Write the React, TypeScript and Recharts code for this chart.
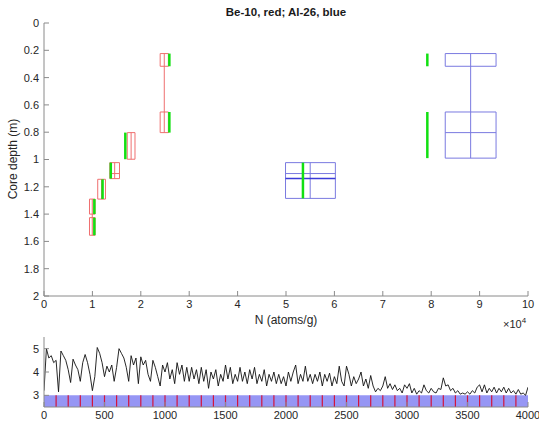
import React from "react";
import { ComposedChart, Line, XAxis, YAxis, ReferenceArea, ReferenceLine } from "recharts";

// Be-10 boxes (N in 1e4 atoms/g, depth in m)
const beLo = [2.4, 2.4, 1.72, 1.36, 1.11, 0.94, 0.94];
const beHi = [2.57, 2.57, 1.88, 1.56, 1.27, 1.055, 1.055];
const beTop = [0.224, 0.652, 0.803, 1.023, 1.145, 1.29, 1.426];
const beBot = [0.317, 0.803, 0.998, 1.14, 1.29, 1.4, 1.555];
const beStemN = [2.485, 1.8, 1.46, 1.19, 0.997];
const beStemTop = [0.224, 0.803, 1.023, 1.145, 1.29];
const beStemBot = [0.803, 0.998, 1.14, 1.29, 1.555];
const beSplitDepth = [1.103];
const beSplitLo = [1.36];
const beSplitHi = [1.56];

// Al-26 boxes
const alLo = [8.29, 8.29, 4.99];
const alHi = [9.34, 9.34, 6.02];
const alTop = [0.224, 0.652, 1.023];
const alBot = [0.317, 0.99, 1.285];
const alStemN = [8.815, 5.5];
const alStemTop = [0.224, 1.023];
const alStemBot = [0.99, 1.285];
const alSplitDepth = [0.803, 1.103, 1.14];
const alSplitLo = [8.29, 4.99, 4.99];
const alSplitHi = [9.34, 6.02, 6.02];

// green markers
const greenN = [2.59, 2.59, 1.68, 1.38, 1.21, 1.04, 1.04, 7.92, 7.92, 5.35];
const greenTop = [0.224, 0.652, 0.803, 1.023, 1.145, 1.29, 1.426, 0.224, 0.652, 1.023];
const greenBot = [0.317, 0.803, 0.998, 1.14, 1.29, 1.4, 1.555, 0.317, 0.99, 1.285];

const topXTicks = [0, 1, 2, 3, 4, 5, 6, 7, 8, 9, 10];
const topYTicks = [0, 0.2, 0.4, 0.6, 0.8, 1, 1.2, 1.4, 1.6, 1.8, 2];

// lower panel: time series, every 20 units from 0 to 4000
const seriesStep = 20;
const seriesValues = [
  3.2, 5.0, 4.6, 4.7, 4.4, 4.5, 3.15, 4.9, 4.7, 4.5,
  4.1, 3.55, 4.55, 4.3, 4.1, 3.6, 4.4, 4.75, 4.4, 3.9,
  3.2, 3.8, 5.05, 4.8, 4.4, 3.8, 4.25, 4.0, 4.3, 3.6,
  4.2, 5.0, 4.8, 4.6, 4.2, 3.6, 4.7, 4.3, 4.6, 3.5,
  4.65, 4.3, 4.5, 3.9, 3.6, 4.5, 4.2, 3.8, 3.4, 4.3,
  4.0, 4.4, 3.7, 4.1, 3.5, 4.4, 3.9, 4.3, 3.6, 4.2,
  3.6, 4.2, 3.7, 4.1, 3.5, 4.2, 3.6, 4.1, 3.3, 4.0,
  3.7, 4.1, 3.4, 3.9, 3.6, 4.3, 3.7, 4.2, 3.5, 3.9,
  3.6, 4.2, 3.6, 4.0, 3.5, 4.1, 3.7, 4.2, 3.5, 3.9,
  3.6, 4.1, 3.4, 3.9, 3.6, 4.0, 3.5, 3.9, 3.5, 3.8,
  3.4, 4.0, 3.6, 4.0, 4.3, 3.5, 3.9, 3.6, 4.25, 3.6,
  3.9, 3.5, 3.9, 3.6, 4.0, 3.4, 3.9, 3.6, 3.95, 3.4,
  3.8, 3.5, 4.25, 3.6, 3.4, 4.25, 3.9, 3.4, 3.8, 3.5,
  3.7, 4.0, 3.4, 3.7, 3.3, 3.85, 3.4, 3.15, 3.3, 3.2,
  3.4, 3.8, 3.3, 3.5, 3.25, 3.45, 3.2, 3.3, 3.1, 3.45,
  3.3, 3.5, 3.1, 3.3, 3.05, 3.2, 3.1, 3.45, 3.2, 3.1,
  3.3, 3.15, 3.1, 3.3, 3.25, 3.75, 3.4, 3.45, 3.2, 3.3,
  3.1, 3.2, 3.05, 3.1, 3.05, 3.15, 3.05, 3.2, 3.1, 3.35,
  3.45, 3.15, 3.45, 3.1, 3.3, 3.15, 3.35, 3.1, 3.3, 3.15,
  3.35, 3.1, 3.3, 3.1, 3.2, 3.05, 3.25, 3.05, 3.1, 3.0,
  3.35,
];
const markerX = [
  100, 200, 300, 400, 500, 600, 700, 800, 900, 1000, 1100, 1200, 1300,
  1400, 1500, 1600, 1700, 1800, 1900, 2000, 2100, 2200, 2300, 2400, 2500,
  2600, 2700, 2800, 2900, 3000, 3100, 3200, 3300, 3400, 3500, 3600, 3700,
  3800, 3900,
];
const bottomXTicks = [0, 500, 1000, 1500, 2000, 2500, 3000, 3500, 4000];
const bottomYTicks = [3, 4, 5];

const RED = "#ef6f6f";
const BLUE = "#7a7ae0";
const GREEN = "#11e011";
const AXIS = "#8a8a8a";
const FONT = "'Liberation Sans', Arial, sans-serif";
const tickStyle = { fill: "#262626", fontSize: 11, fontFamily: FONT };

const box = (lo: number, hi: number, t: number, b: number) => [
  { x: lo, y: t },
  { x: hi, y: t },
  { x: hi, y: b },
  { x: lo, y: b },
  { x: lo, y: t },
];
const seg = (x1: number, y1: number, x2: number, y2: number) => [
  { x: x1, y: y1 },
  { x: x2, y: y2 },
];

const redPaths = [
  ...beLo.map((lo, i) => box(lo, beHi[i], beTop[i], beBot[i])),
  ...beStemN.map((n, i) => seg(n, beStemTop[i], n, beStemBot[i])),
  ...beSplitDepth.map((d, i) => seg(beSplitLo[i], d, beSplitHi[i], d)),
];
const bluePaths = [
  ...alLo.map((lo, i) => box(lo, alHi[i], alTop[i], alBot[i])),
  ...alStemN.map((n, i) => seg(n, alStemTop[i], n, alStemBot[i])),
  ...alSplitDepth.map((d, i) => seg(alSplitLo[i], d, alSplitHi[i], d)),
];
const greenPaths = greenN.map((n, i) => seg(n, greenTop[i], n, greenBot[i]));

const seriesData = seriesValues.map((v, i) => ({ x: i * seriesStep, y: v }));

export default function App() {
  const blank = () => "";
  return (
    <div style={{ position: "absolute", left: 0, top: 0, width: 539, height: 425, background: "#fff", fontFamily: FONT }}>
      <div style={{ position: "absolute", left: 44, width: 484, top: 6, textAlign: "center", fontSize: 11.5, fontWeight: "bold", color: "#1a1a1a" }}>
        Be-10, red; Al-26, blue
      </div>
      <div
        style={{
          position: "absolute",
          left: 13,
          top: 159,
          transform: "translate(-50%, -50%) rotate(-90deg)",
          whiteSpace: "nowrap",
          fontSize: 12,
          color: "#262626",
        }}
      >
        Core depth (m)
      </div>
      <div style={{ position: "absolute", left: 44, width: 484, top: 313, textAlign: "center", fontSize: 12, color: "#262626" }}>
        N (atoms/g)
      </div>
      <div style={{ position: "absolute", left: 503, top: 316, fontSize: 11, color: "#262626", whiteSpace: "nowrap" }}>
        ×10<sup style={{ fontSize: 8 }}>4</sup>
      </div>

      <div style={{ position: "absolute", left: 0, top: 0 }}>
        <ComposedChart width={539} height={330} margin={{ top: 23, right: 11, bottom: 0, left: 0 }}>
          <XAxis
            type="number"
            dataKey="x"
            domain={[0, 10]}
            ticks={topXTicks}
            allowDataOverflow
            height={34}
            tickSize={-5}
            tickMargin={9}
            stroke={AXIS}
            tick={tickStyle}
            interval={0}
          />
          <XAxis
            xAxisId="top"
            orientation="top"
            type="number"
            domain={[0, 10]}
            ticks={topXTicks}
            allowDataOverflow
            height={0}
            tickSize={-5}
            tickFormatter={blank}
            stroke={AXIS}
            interval={0}
          />
          <YAxis
            type="number"
            domain={[0, 2]}
            reversed
            ticks={topYTicks}
            allowDataOverflow
            width={44}
            tickSize={-5}
            tickMargin={10}
            stroke={AXIS}
            tick={tickStyle}
            interval={0}
          />
          <YAxis
            yAxisId="right"
            orientation="right"
            type="number"
            domain={[0, 2]}
            reversed
            ticks={topYTicks}
            allowDataOverflow
            width={0}
            tickSize={-5}
            tickFormatter={blank}
            stroke={AXIS}
            interval={0}
          />
          {redPaths.map((d, i) => (
            <Line key={`r${i}`} data={d} dataKey="y" stroke={RED} strokeWidth={1} dot={false} isAnimationActive={false} />
          ))}
          {bluePaths.map((d, i) => (
            <Line
              key={`b${i}`}
              data={d}
              dataKey="y"
              stroke={i === bluePaths.length - 1 ? "#3b3bd8" : BLUE}
              strokeWidth={i === bluePaths.length - 1 ? 1.5 : 1}
              dot={false}
              isAnimationActive={false}
            />
          ))}
          {greenPaths.map((d, i) => (
            <Line key={`g${i}`} data={d} dataKey="y" stroke={GREEN} strokeWidth={2.5} dot={false} isAnimationActive={false} />
          ))}
        </ComposedChart>
      </div>

      <div style={{ position: "absolute", left: 0, top: 330 }}>
        <ComposedChart width={539} height={95} data={seriesData} margin={{ top: 7, right: 11, bottom: 0, left: 0 }}>
          <XAxis
            type="number"
            dataKey="x"
            domain={[0, 4000]}
            ticks={bottomXTicks}
            allowDataOverflow
            height={18}
            tickSize={-5}
            tickMargin={9}
            stroke={AXIS}
            tick={tickStyle}
            interval={0}
          />
          <XAxis
            xAxisId="top"
            orientation="top"
            type="number"
            domain={[0, 4000]}
            ticks={bottomXTicks}
            allowDataOverflow
            height={0}
            tickSize={-5}
            tickFormatter={blank}
            stroke={AXIS}
            interval={0}
          />
          <YAxis
            type="number"
            domain={[2.5, 5.5]}
            ticks={bottomYTicks}
            allowDataOverflow
            width={44}
            tickSize={-5}
            tickMargin={10}
            stroke={AXIS}
            tick={tickStyle}
            interval={0}
          />
          <YAxis
            yAxisId="right"
            orientation="right"
            type="number"
            domain={[2.5, 5.5]}
            ticks={bottomYTicks}
            allowDataOverflow
            width={0}
            tickSize={-5}
            tickFormatter={blank}
            stroke={AXIS}
            interval={0}
          />
          <ReferenceArea x1={0} x2={4000} y1={2.5} y2={3} fill="#9696f4" fillOpacity={1} stroke="none" />
          {markerX.map((m) => (
            <ReferenceLine
              key={m}
              segment={[
                { x: m, y: 2.5 },
                { x: m, y: 3 },
              ]}
              stroke="#d4143c"
              strokeWidth={1.2}
            />
          ))}
          <Line dataKey="y" stroke="#111" strokeWidth={0.9} dot={false} isAnimationActive={false} />
        </ComposedChart>
      </div>
    </div>
  );
}
